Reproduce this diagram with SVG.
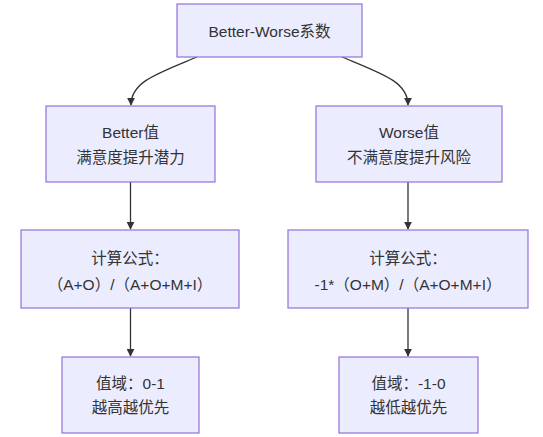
<svg xmlns="http://www.w3.org/2000/svg" width="543" height="437" viewBox="0 0 543 437">
<style>
.box{fill:#ECECFF;stroke:#9370DB;stroke-width:1.2}
.lbl{font-family:"Liberation Sans","Noto Sans CJK SC",sans-serif;font-size:15.5px;fill:#333;text-anchor:middle}
.edge{fill:none;stroke:#333;stroke-width:1.3}
</style>
<defs>
<marker id="arr" viewBox="0 0 10 10" refX="9" refY="5" markerWidth="8" markerHeight="8" markerUnits="userSpaceOnUse" orient="auto">
<path d="M0,0 L10,5 L0,10 z" fill="#333"/>
</marker>
</defs>
<rect x="0" y="0" width="543" height="437" fill="#fff"/>
<g id="edges">
<path class="edge" d="M197,57 C156,74 131,82 131,105" marker-end="url(#arr)"/>
<path class="edge" d="M342,57 C383,74 408,82 408,105" marker-end="url(#arr)"/>
<path class="edge" d="M130.5,182 L130.5,229" marker-end="url(#arr)"/>
<path class="edge" d="M408,182 L408,229" marker-end="url(#arr)"/>
<path class="edge" d="M130.5,308 L130.5,356" marker-end="url(#arr)"/>
<path class="edge" d="M408,308 L408,356" marker-end="url(#arr)"/>
</g>
<g id="root">
<rect class="box" x="177" y="4" width="185" height="53"/>
<text class="lbl" x="269.5" y="36.5">Better-Worse系数</text>
</g>
<g id="better">
<rect class="box" x="46" y="106" width="169" height="76"/>
<text class="lbl" x="130.5" y="137.5">Better值</text>
<text class="lbl" x="130.5" y="162.5">满意度提升潜力</text>
</g>
<g id="worse">
<rect class="box" x="316" y="106" width="186" height="76"/>
<text class="lbl" x="409" y="137.5">Worse值</text>
<text class="lbl" x="409" y="162.5">不满意度提升风险</text>
</g>
<g id="betterFormula">
<rect class="box" x="21" y="230" width="218" height="78"/>
<text class="lbl" x="130" y="263.5">计算公式：</text>
<text class="lbl" x="130" y="289.5">（A+O）/（A+O+M+I）</text>
</g>
<g id="worseFormula">
<rect class="box" x="288" y="230" width="240" height="78"/>
<text class="lbl" x="408" y="263.5">计算公式：</text>
<text class="lbl" x="408" y="289.5">-1*（O+M）/（A+O+M+I）</text>
</g>
<g id="betterRange">
<rect class="box" x="62" y="357" width="137" height="76"/>
<text class="lbl" x="130.5" y="388.5">值域：0-1</text>
<text class="lbl" x="130.5" y="412.5">越高越优先</text>
</g>
<g id="worseRange">
<rect class="box" x="339" y="357" width="139" height="76"/>
<text class="lbl" x="408.5" y="388.5">值域：-1-0</text>
<text class="lbl" x="408.5" y="412.5">越低越优先</text>
</g>
</svg>
